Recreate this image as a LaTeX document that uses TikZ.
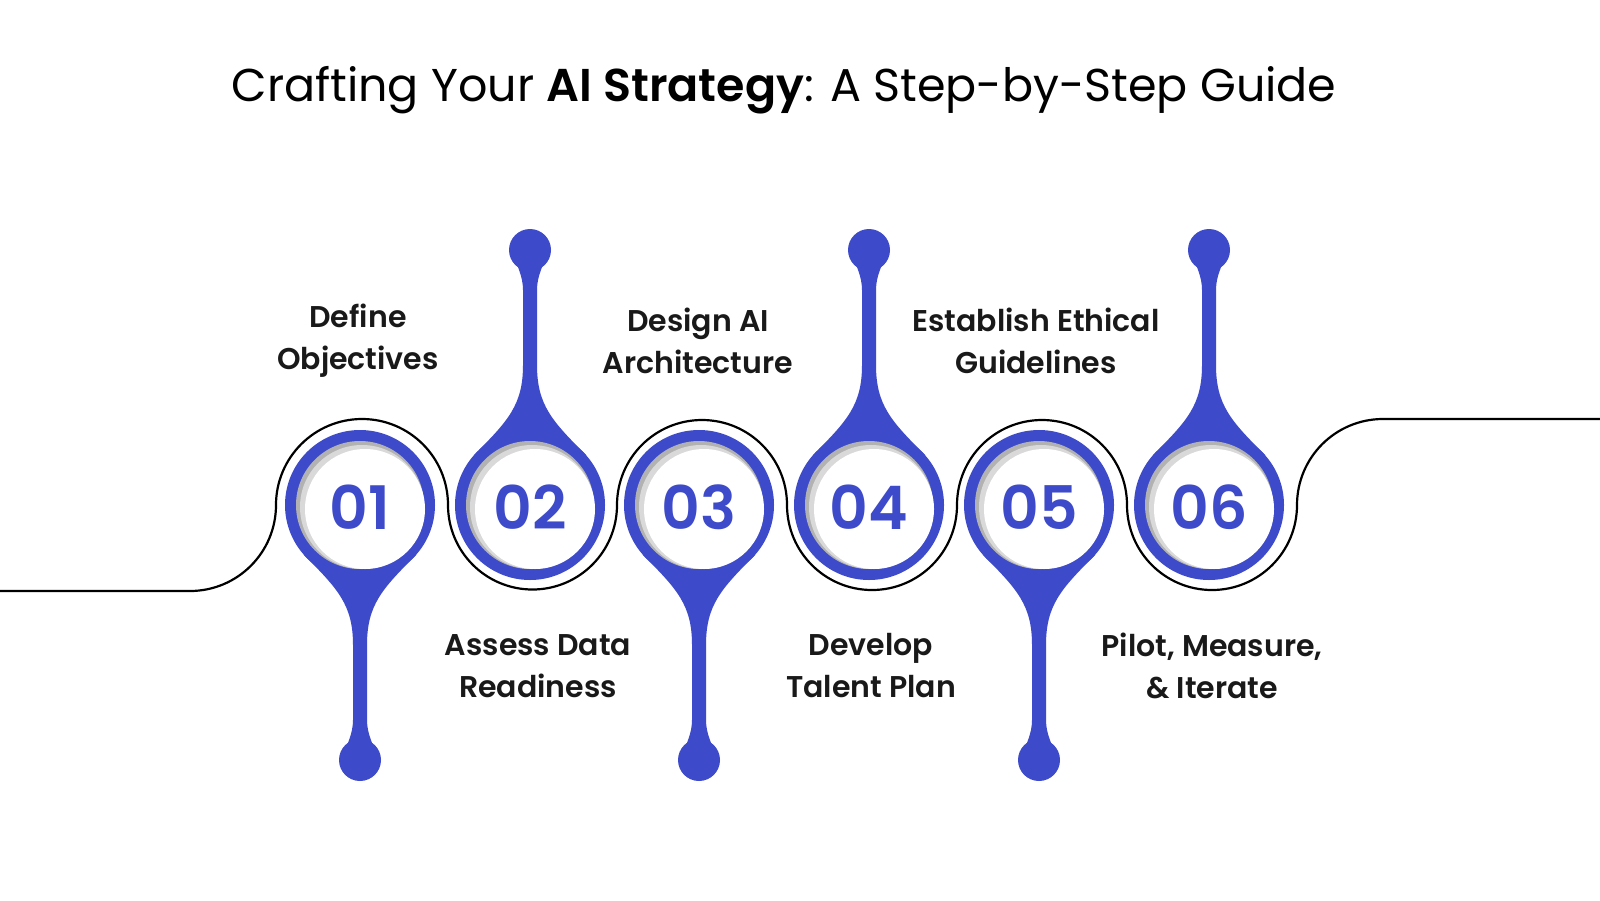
\documentclass[tikz,border=0pt]{standalone}
\usepackage{fontspec}
\setmainfont{Poppins}
\newfontfamily\semi{Poppins SemiBold}
\definecolor{blu}{HTML}{3D4AC9}
\tikzset{
  lbl/.style={font=\semi\fontsize{30}{42}\selectfont, align=center, text=black!90},
  num/.style={font=\semi\fontsize{60}{64}\selectfont, text=blu},
}
\begin{document}
\begin{tikzpicture}[x=1pt,y=-1pt]
\useasboundingbox (0,0) rectangle (1600,900);
\fill[white] (0,0) rectangle (1600,900);
\node[font=\fontsize{46}{50}\selectfont] (title) at (784,90) {Crafting Your {\semi AI Strategy}: A Step-by-Step Guide};
% wave line
\draw[line width=2.2pt] (0,591) -- (190,591) arc[start angle=90,end angle=0,radius=86] arc[start angle=180,end angle=360,radius=86]
  arc[start angle=180,end angle=0,radius=84.5] arc[start angle=180,end angle=360,radius=85]
  arc[start angle=180,end angle=0,radius=85] arc[start angle=180,end angle=360,radius=85]
  arc[start angle=180,end angle=0,radius=85] arc[start angle=180,end angle=270,radius=86] -- (1600,419);
\foreach \i/\cx/\d in {1/360/1,2/530/-1,3/699/1,4/869/-1,5/1039/1,6/1209/-1}{
  \begin{scope}[shift={(\cx,505)},yscale=\d]
    \fill[blu] (-56,50) .. controls (-22,84) and (-7,100) .. (-7,140) -- (-7,215)
      .. controls (-7,230) and (-14,240) .. (-14,245) -- (14,245) .. controls (14,240) and (7,230) .. (7,215)
      -- (7,140) .. controls (7,100) and (22,84) .. (56,50) -- cycle;
    \fill[blu] (0,255) circle[radius=21];
  \end{scope}
  \fill[blu] (\cx,505) circle[radius=75];
  \fill[black!30] (\cx,505) circle[radius=64];
  \fill[black!15] (\cx+2,507) circle[radius=62];
  \fill[white] (\cx+5,509) circle[radius=60];
  \node[num] (n\i) at (\cx,507) {0\i};
}
\node[lbl] (l1) at (358,341) {Define\\Objectives};
\node[lbl] (l2) at (538,666) {Assess Data\\Readiness};
\node[lbl] (l3) at (698,341) {Design AI\\Architecture};
\node[lbl] (l4) at (871,666) {Develop\\Talent Plan};
\node[lbl] (l5) at (1036,341) {Establish Ethical\\Guidelines};
\node[lbl] (l6) at (1212,666) {Pilot, Measure,\\\& Iterate};
\end{tikzpicture}
\end{document}
